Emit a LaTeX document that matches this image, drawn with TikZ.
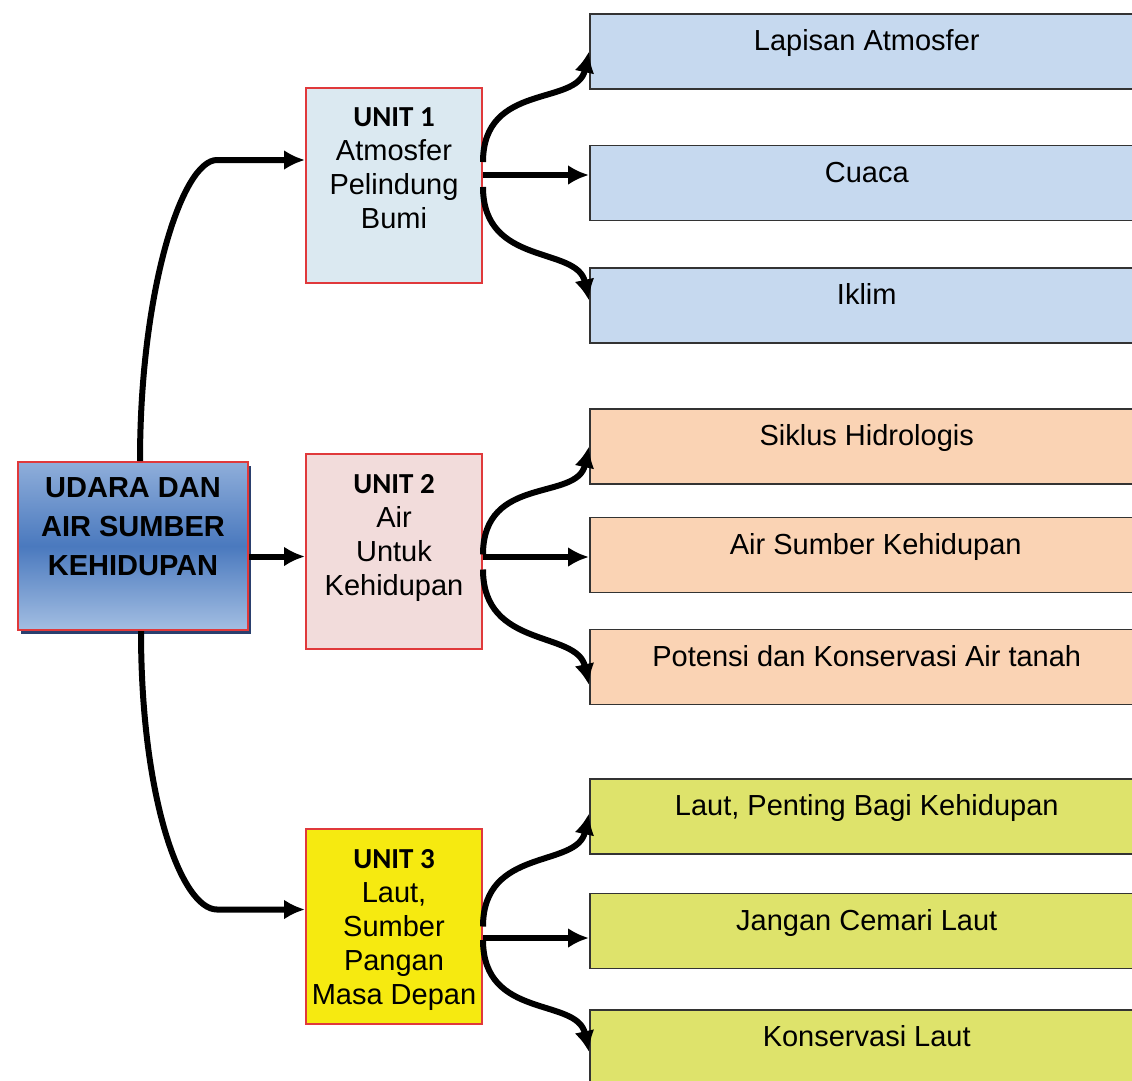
\documentclass[tikz,border=0pt]{standalone}
\usepackage{fontspec}
\setmainfont{Liberation Sans}
\newfontfamily\unitfont{Carlito}
\usetikzlibrary{positioning,calc,arrows.meta,shadows}

\definecolor{mainTop}{HTML}{8FAEDA}
\definecolor{mainMid}{HTML}{4A79BE}
\definecolor{mainBot}{HTML}{A3BEE2}
\definecolor{mainShadow}{HTML}{2A3F6E}
\definecolor{unitRed}{HTML}{E0393B}
\definecolor{unitOne}{HTML}{DBE9F1}
\definecolor{unitTwo}{HTML}{F2DCDB}
\definecolor{unitThree}{HTML}{F6EA10}
\definecolor{topicBlue}{HTML}{C6D9EF}
\definecolor{topicOrange}{HTML}{FAD3B4}
\definecolor{topicGreen}{HTML}{DEE36B}
\definecolor{topicEdge}{HTML}{333333}

\tikzset{
  mainbox/.style={draw=unitRed, line width=2pt, minimum width=230pt, minimum height=168pt,
    inner sep=0pt, top color=mainTop, bottom color=mainBot, middle color=mainMid,
    drop shadow={shadow xshift=3pt, shadow yshift=-4pt, fill=mainShadow, opacity=1}},
  maintext/.style={anchor=north, inner sep=0pt, align=center,
    font=\fontsize{29}{39}\selectfont\bfseries},
  unitbox/.style={draw=unitRed, line width=2pt, minimum width=176pt, minimum height=195pt, inner sep=0pt},
  unittext/.style={anchor=north, inner sep=0pt, align=center, font=\fontsize{29}{34}\selectfont},
  topic/.style={draw=topicEdge, line width=1.5pt, minimum width=554pt, minimum height=75pt,
    anchor=west, inner sep=0pt, text height=20pt, text depth=22pt, font=\fontsize{29}{34}\selectfont},
  arr/.style={line width=6pt, -{Latex[length=21pt,width=20pt]}}
}

\begin{document}
\begin{tikzpicture}[x=1pt,y=-1pt]
    \useasboundingbox (0,0) rectangle (1132,1081);

    % Main theme
    \node[mainbox] (main) at (133,546) {};
    \node[maintext] (mainlabel) at ($(main.north)+(0,16.5)$) {UDARA DAN\\AIR SUMBER\\KEHIDUPAN};

    % Units
    \node[unitbox, fill=unitOne] (u1) at (394,185) {};
    \node[unitbox, fill=unitTwo] (u2) at (394,551.5) {};
    \node[unitbox, fill=unitThree] (u3) at (394,926.5) {};
    \node[unittext] (u1label) at ($(u1.north)+(0,21)$) {{\unitfont\bfseries UNIT 1}\\Atmosfer\\Pelindung\\Bumi};
    \node[unittext] (u2label) at ($(u2.north)+(0,21)$) {{\unitfont\bfseries UNIT 2}\\Air\\Untuk\\Kehidupan};
    \node[unittext] (u3label) at ($(u3.north)+(0,21)$) {{\unitfont\bfseries UNIT 3}\\Laut,\\Sumber\\Pangan\\Masa Depan};

    % Topics of unit 1
    \node[topic, fill=topicBlue] (t1) at (589,51.5) {Lapisan Atmosfer};
    \node[topic, fill=topicBlue] (t2) at (589,183) {Cuaca};
    \node[topic, fill=topicBlue] (t3) at (589,305.5) {Iklim};

    % Topics of unit 2
    \node[topic, fill=topicOrange] (t4) at (589,446.5) {Siklus Hidrologis};
    \node[topic, fill=topicOrange] (t5) at (589,555) {\hspace{18pt}Air Sumber Kehidupan};
    \node[topic, fill=topicOrange] (t6) at (589,667) {Potensi dan Konservasi Air tanah};

    % Topics of unit 3
    \node[topic, fill=topicGreen] (t7) at (589,816.5) {Laut, Penting Bagi Kehidupan};
    \node[topic, fill=topicGreen] (t8) at (589,931) {Jangan Cemari Laut};
    \node[topic, fill=topicGreen] (t9) at (589,1047.5) {Konservasi Laut};

    % Main theme to the units
    \coordinate (u2link) at ($(u2.west)+(0,5)$);
    \draw[arr] ($(main.north)+(7,0)$) .. controls +(0,-170) and +(-35,0) .. ($(u1.west)+(-88,-25)$) -- ($(u1.west)+(0,-25)$);
    \draw[arr] (main.east |- u2link) -- (u2link);
    \draw[arr] ($(main.south)+(8,0)$) .. controls +(0,170) and +(-35,0) .. ($(u3.west)+(-88,-17)$) -- ($(u3.west)+(0,-17)$);

    % Unit 1
    \draw[arr] ($(u1.east)+(0,-23)$) .. controls +(0,-80) and +(-12,55) .. (t1.west);
    \draw[arr] ($(u1.east)+(0,-10)$) -- ($(t2.west)+(0,-8)$);
    \draw[arr] ($(u1.east)+(0,2)$) .. controls +(0,80) and +(-12,-55) .. ($(t3.west)+(0,-5)$);

    % Unit 2
    \draw[arr] ($(u2.east)+(0,3)$) .. controls +(0,-80) and +(-12,55) .. (t4.west);
    \draw[arr] ($(u2.east)+(0,5.5)$) -- ($(t5.west)+(0,2)$);
    \draw[arr] ($(u2.east)+(0,18)$) .. controls +(0,80) and +(-12,-55) .. ($(t6.west)+(0,18)$);

    % Unit 3
    \draw[arr] (u3.east) .. controls +(0,-80) and +(-12,55) .. ($(t7.west)+(0,-3)$);
    \draw[arr] ($(u3.east)+(0,11.5)$) -- ($(t8.west)+(0,7)$);
    \draw[arr] ($(u3.east)+(0,13.5)$) .. controls +(0,80) and +(-12,-55) .. ($(t9.west)+(0,4.5)$);
\end{tikzpicture}
\end{document}
